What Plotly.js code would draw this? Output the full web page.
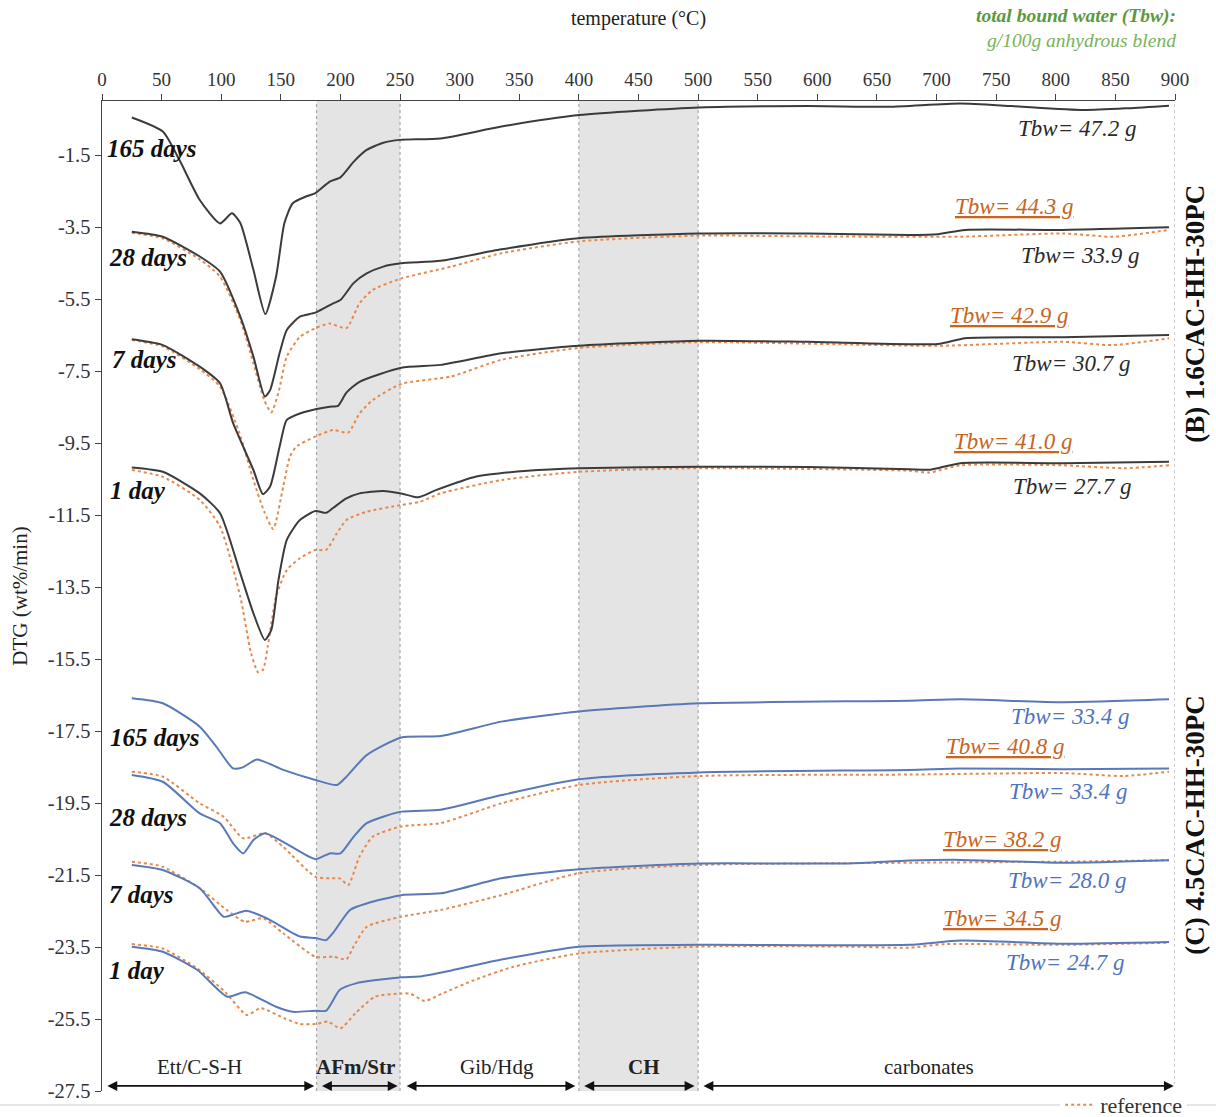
<!DOCTYPE html>
<html>
<head>
<meta charset="utf-8">
<script src="https://cdn.plot.ly/plotly-3.0.1.min.js"></script>
<style>html,body{margin:0;padding:0;background:#fff;}#chart{width:1216px;height:1117px;}</style>
</head>
<body>
<div id="chart"></div>
<script>
// ---------- data (temperature °C, DTG wt%/min) ----------
// (B) 1.6CAC-HH-30PC
const B165_T = [25, 51, 65, 82, 99, 109, 116, 127, 137, 146, 153, 160, 172, 179, 191, 200, 211, 222, 236, 250, 284, 335, 400, 501, 592, 660, 720, 763, 823, 861, 895];
const B165_V = [-0.46, -0.85, -1.64, -2.75, -3.40, -3.12, -3.39, -4.69, -5.92, -4.88, -3.39, -2.84, -2.64, -2.56, -2.24, -2.12, -1.69, -1.36, -1.16, -1.08, -1.04, -0.71, -0.39, -0.18, -0.14, -0.16, -0.07, -0.14, -0.25, -0.20, -0.13];

const B28_T = [25, 51, 82, 99, 116, 127, 136.6, 141, 149, 155, 166, 179, 194, 200, 211, 222, 236, 251, 284, 335, 400, 501, 592, 677, 701, 724, 806, 895];
const B28_V = [-3.63, -3.77, -4.32, -4.74, -5.99, -7.10, -8.21, -8.03, -7.00, -6.36, -5.99, -5.88, -5.62, -5.53, -5.06, -4.79, -4.60, -4.51, -4.44, -4.12, -3.81, -3.68, -3.68, -3.72, -3.70, -3.58, -3.58, -3.51];
const B28R_T = [25, 51, 82, 99, 116, 127, 136, 142, 148, 155, 166, 179, 191, 205, 216, 227, 251, 293, 335, 400, 501, 592, 720, 806, 848, 895];
const B28R_V = [-3.66, -3.82, -4.40, -4.88, -6.08, -7.29, -8.30, -8.65, -8.10, -7.10, -6.55, -6.31, -6.18, -6.31, -5.62, -5.25, -4.93, -4.60, -4.23, -3.90, -3.74, -3.76, -3.77, -3.68, -3.77, -3.58];

const B7_T = [25, 51, 82, 99, 110, 127, 135, 141, 149, 155, 166, 179, 191, 198, 205, 216, 251, 284, 335, 400, 501, 592, 701, 724, 806, 895];
const B7_V = [-6.62, -6.78, -7.38, -7.84, -8.95, -10.25, -10.92, -10.71, -9.60, -8.86, -8.68, -8.56, -8.49, -8.47, -8.10, -7.80, -7.41, -7.33, -7.01, -6.80, -6.66, -6.69, -6.75, -6.59, -6.56, -6.50];
const B7R_T = [25, 51, 82, 99, 115, 127, 136, 143.6, 152, 157.6, 163, 179, 194, 206.5, 216, 227, 251, 293, 335, 400, 501, 701, 806, 848, 895];
const B7R_V = [-6.64, -6.82, -7.45, -7.93, -9.20, -10.53, -11.40, -11.89, -10.71, -9.88, -9.60, -9.32, -9.14, -9.21, -8.68, -8.31, -7.86, -7.65, -7.19, -6.86, -6.70, -6.80, -6.69, -6.78, -6.59];

const B1_T = [25, 51, 82, 99, 116, 127, 136.6, 142, 148, 155, 166, 179, 188, 194, 205, 216, 236, 251, 265, 280, 314, 357, 400, 501, 592, 677, 695, 720, 806, 895];
const B1_V = [-10.18, -10.30, -10.90, -11.45, -13.12, -14.23, -14.97, -14.69, -13.31, -12.19, -11.64, -11.39, -11.44, -11.30, -11.04, -10.90, -10.83, -10.90, -11.01, -10.81, -10.43, -10.27, -10.20, -10.16, -10.17, -10.23, -10.24, -10.06, -10.06, -10.02];
const B1R_T = [25, 51, 82, 99, 116, 125, 131, 135, 139, 146, 155, 166, 179, 188, 197, 205, 222, 251, 267, 284, 335, 400, 501, 677, 694, 720, 806, 857, 895];
const B1R_V = [-10.25, -10.44, -11.08, -11.82, -13.77, -15.34, -15.87, -15.80, -15.16, -13.77, -13.03, -12.70, -12.47, -12.47, -12.01, -11.64, -11.41, -11.22, -11.13, -10.90, -10.53, -10.30, -10.20, -10.27, -10.32, -10.12, -10.12, -10.20, -10.12];

// (C) 4.5CAC-HH-30PC
const C165_T = [25, 51, 82, 96, 110, 118, 130, 152, 179, 197, 205, 222, 251, 284, 335, 400, 501, 677, 720, 806, 895];
const C165_V = [-16.59, -16.73, -17.38, -17.94, -18.54, -18.51, -18.29, -18.58, -18.86, -19.00, -18.77, -18.17, -17.68, -17.64, -17.24, -16.96, -16.73, -16.66, -16.62, -16.70, -16.62];

const C28_T = [25, 51, 82, 99, 110, 118.5, 127, 136.6, 152, 179, 191, 200, 211, 222, 251, 284, 335, 400, 501, 677, 720, 806, 895];
const C28_V = [-18.72, -18.91, -19.79, -20.06, -20.62, -20.90, -20.53, -20.34, -20.58, -21.06, -20.90, -20.90, -20.44, -20.06, -19.74, -19.69, -19.28, -18.84, -18.65, -18.58, -18.54, -18.56, -18.54];
const C28R_T = [25, 51, 82, 102, 118.5, 137, 152, 179, 191, 200, 206.5, 216, 227, 251, 284, 335, 400, 501, 677, 806, 857, 895];
const C28R_V = [-18.63, -18.77, -19.51, -19.88, -20.48, -20.34, -20.72, -21.55, -21.59, -21.60, -21.78, -20.99, -20.44, -20.15, -20.06, -19.51, -19.00, -18.75, -18.71, -18.67, -18.75, -18.63];

const C7_T = [25, 51, 82, 102, 110, 121, 138, 166, 179, 188, 194, 208, 222, 251, 284, 335, 400, 501, 626, 677, 720, 806, 895];
const C7_V = [-21.22, -21.36, -21.87, -22.66, -22.60, -22.49, -22.70, -23.21, -23.25, -23.31, -23.10, -22.47, -22.29, -22.06, -22.01, -21.59, -21.34, -21.18, -21.18, -21.10, -21.08, -21.16, -21.09];
const C7R_T = [25, 51, 82, 104.5, 120, 135, 152, 179, 194, 205, 211, 222, 251, 284, 335, 400, 501, 677, 806, 895];
const C7R_V = [-21.13, -21.27, -21.87, -22.47, -22.80, -22.70, -23.12, -23.77, -23.77, -23.84, -23.49, -22.94, -22.66, -22.47, -22.06, -21.45, -21.22, -21.16, -21.13, -21.09];

const C1_T = [25, 51, 80, 105, 120, 146, 160, 179.5, 188, 199.5, 213, 251, 266, 293, 335, 400, 501, 677, 720, 806, 895];
const C1_V = [-23.49, -23.63, -24.14, -24.88, -24.76, -25.16, -25.30, -25.27, -25.27, -24.69, -24.51, -24.34, -24.32, -24.15, -23.85, -23.49, -23.44, -23.44, -23.32, -23.41, -23.36];
const C1R_T = [25, 51, 80, 103, 121.5, 133, 153, 166, 179.5, 189.5, 200, 212.6, 229, 251, 259, 270.6, 285.5, 312, 345, 400, 501, 626, 677, 707, 806, 895];
const C1R_V = [-23.42, -23.54, -24.10, -24.74, -25.39, -25.20, -25.48, -25.64, -25.64, -25.57, -25.76, -25.34, -24.88, -24.79, -24.80, -25.00, -24.79, -24.42, -24.05, -23.68, -23.49, -23.49, -23.52, -23.42, -23.44, -23.38];

// labels
const AGE_LABELS = ["165 days", "28 days", "7 days", "1 day"];
const AGE_B_POS = [[2.5, -1.31], [4.2, -4.36], [6.7, -7.19], [5, -10.81]];
const AGE_C_POS = [[5, -17.69], [4.5, -19.89], [4.5, -22.05], [4.5, -24.14]];

const TBW_B_TEXT = ["Tbw= 47.2 g", "Tbw= 44.3 g", "Tbw= 33.9 g", "Tbw= 42.9 g", "Tbw= 30.7 g", "Tbw= 41.0 g", "Tbw= 27.7 g"];
const TBW_B_KIND = ["s", "r", "s", "r", "s", "r", "s"];
const TBW_B_POS = [[818, -0.75], [765, -2.92], [820, -4.28], [761, -5.97], [813, -7.28], [764, -9.47], [814, -10.72]];
const TBW_C_TEXT = ["Tbw= 33.4 g", "Tbw= 40.8 g", "Tbw= 33.4 g", "Tbw= 38.2 g", "Tbw= 28.0 g", "Tbw= 34.5 g", "Tbw= 24.7 g"];
const TBW_C_KIND = ["s", "r", "s", "r", "s", "r", "s"];
const TBW_C_POS = [[812, -17.11], [757, -17.94], [810, -19.17], [755, -20.5], [809, -21.64], [755, -22.72], [808, -23.94]];

const REGION_NAMES = ["Ett/C-S-H", "<b>AFm/Str</b>", "Gib/Hdg", "<b>CH</b>", "carbonates"];
const REGION_SPANS = [[2, 178], [182, 248], [253, 397], [402, 497], [502, 899]];
const REGION_LABEL_X = [82, 213, 331, 455, 694];
const BANDS = [[180, 250], [400, 500]];
const DOTTED_X = [180, 250, 400, 500, 900];

const X_TICKS = [0, 50, 100, 150, 200, 250, 300, 350, 400, 450, 500, 550, 600, 650, 700, 750, 800, 850, 900];
const Y_TICKS = [-1.5, -3.5, -5.5, -7.5, -9.5, -11.5, -13.5, -15.5, -17.5, -19.5, -21.5, -23.5, -25.5, -27.5];

// ---------- styles ----------
const FONT = '"Liberation Serif", "Times New Roman", serif';
const COL_B = '#3b3b3b';
const COL_C = '#5878b8';
const COL_R = '#e8894c';
const COL_RT = '#c8641e';
const COL_CT = '#4f74bf';

function solid(x, y, c) {
  return {x: x, y: y, type: 'scatter', mode: 'lines', showlegend: false, hoverinfo: 'skip',
          line: {color: c, width: 2, shape: 'spline', smoothing: 0.6}};
}
function ref(x, y, show) {
  return {x: x, y: y, type: 'scatter', mode: 'lines', name: 'reference', showlegend: !!show, hoverinfo: 'skip',
          line: {color: COL_R, width: 2, dash: 'dot', shape: 'spline', smoothing: 0.6}};
}

const data = [
  ref(B28R_T, B28R_V, true), ref(B7R_T, B7R_V), ref(B1R_T, B1R_V),
  ref(C28R_T, C28R_V), ref(C7R_T, C7R_V), ref(C1R_T, C1R_V),
  solid(B165_T, B165_V, COL_B), solid(B28_T, B28_V, COL_B), solid(B7_T, B7_V, COL_B), solid(B1_T, B1_V, COL_B),
  solid(C165_T, C165_V, COL_C), solid(C28_T, C28_V, COL_C), solid(C7_T, C7_V, COL_C), solid(C1_T, C1_V, COL_C)
];

const shapes = [];
BANDS.forEach(b => shapes.push({type: 'rect', xref: 'x', yref: 'paper', x0: b[0], x1: b[1], y0: 0, y1: 1,
  fillcolor: '#e4e4e4', line: {width: 0}, layer: 'below'}));
DOTTED_X.forEach(x => shapes.push({type: 'line', xref: 'x', yref: 'paper', x0: x, x1: x, y0: 0, y1: 1,
  line: {color: '#9a9a9a', width: 1, dash: 'dot'}, layer: 'below'}));
shapes.push({type: 'line', xref: 'paper', yref: 'paper', x0: -0.095, x1: 1.038, y0: -0.0141, y1: -0.0141,
  line: {color: '#dcdcdc', width: 1.5}, layer: 'below'});

const ann = [];
AGE_LABELS.forEach((t, i) => {
  ann.push({x: AGE_B_POS[i][0], y: AGE_B_POS[i][1], xref: 'x', yref: 'y', xanchor: 'left', yanchor: 'middle',
    text: '<b><i>' + t + '</i></b>', showarrow: false, font: {family: FONT, size: 25, color: '#111'}});
  ann.push({x: AGE_C_POS[i][0], y: AGE_C_POS[i][1], xref: 'x', yref: 'y', xanchor: 'left', yanchor: 'middle',
    text: '<b><i>' + t + '</i></b>', showarrow: false, font: {family: FONT, size: 25, color: '#111'}});
});
function tbw(texts, kinds, pos, solidColor) {
  texts.forEach((t, i) => {
    const isRef = kinds[i] === 'r';
    ann.push({x: pos[i][0], y: pos[i][1], xref: 'x', yref: 'y', xanchor: 'center', yanchor: 'middle',
      text: isRef ? '<u><i>' + t + '</i></u>' : '<i>' + t + '</i>', showarrow: false,
      font: {family: FONT, size: 23, color: isRef ? COL_RT : solidColor}});
  });
}
tbw(TBW_B_TEXT, TBW_B_KIND, TBW_B_POS, '#2a2a2a');
tbw(TBW_C_TEXT, TBW_C_KIND, TBW_C_POS, COL_CT);

REGION_SPANS.forEach((s, i) => {
  ann.push({x: s[1], y: -27.36, ax: s[0], ay: -27.36, xref: 'x', yref: 'y', axref: 'x', ayref: 'y',
    text: ' ', showarrow: true, arrowhead: 2, startarrowhead: 2, arrowside: 'end+start',
    arrowsize: 1.1, startarrowsize: 1.1, arrowwidth: 1.8, arrowcolor: '#111', standoff: 0, startstandoff: 0});
  ann.push({x: REGION_LABEL_X[i], y: -26.82, xref: 'x', yref: 'y', xanchor: 'center', yanchor: 'middle',
    text: REGION_NAMES[i], showarrow: false, font: {family: FONT, size: 21, color: '#222'}});
});

ann.push({x: 1.0186, y: 0.785, xref: 'paper', yref: 'paper', xanchor: 'center', yanchor: 'middle', textangle: -90, showarrow: false,
  text: '<b>(B) 1.6CAC-HH-30PC</b>', font: {family: FONT, size: 27, color: '#111'}});
ann.push({x: 1.0186, y: 0.269, xref: 'paper', yref: 'paper', xanchor: 'center', yanchor: 'middle', textangle: -90, showarrow: false,
  text: '<b>(C) 4.5CAC-HH-30PC</b>', font: {family: FONT, size: 27, color: '#111'}});
ann.push({x: 1.003, y: 1.099, xref: 'paper', yref: 'paper', xanchor: 'right', yanchor: 'top', align: 'right',
  showarrow: false, font: {family: FONT, size: 19.5, color: '#5b9a3c'},
  text: '<b><i>total bound water (Tbw):</i></b><br><span style="color:#79b25a"><i>g/100g anhydrous blend</i></span>'});

const layout = {
  width: 1216, height: 1117,
  margin: {l: 102, r: 41, t: 101, b: 26, autoexpand: false},
  paper_bgcolor: '#fff', plot_bgcolor: 'rgba(0,0,0,0)',
  font: {family: FONT, color: '#333'},
  showlegend: true,
  legend: {x: 0.893, y: -0.0141, xanchor: 'left', yanchor: 'middle', bgcolor: '#fff', borderwidth: 0,
           font: {family: FONT, size: 22, color: '#333'}, tracegroupgap: 0},
  xaxis: {
    side: 'top', range: [0, 900], tickvals: X_TICKS, ticktext: X_TICKS.map(String),
    ticks: 'outside', ticklen: 6, tickcolor: '#444', showline: true, linecolor: '#444', linewidth: 1.5,
    showgrid: false, zeroline: false, tickfont: {family: FONT, size: 19, color: '#333'},
    title: {text: 'temperature (°C)', font: {family: FONT, size: 20, color: '#222'}, standoff: 38}
  },
  yaxis: {
    range: [-27.5, 0], tickvals: Y_TICKS, ticktext: Y_TICKS.map(v => String(v)),
    ticks: 'outside', ticklen: 6, tickcolor: '#444', showline: true, linecolor: '#444', linewidth: 1.5,
    showgrid: false, zeroline: false, tickfont: {family: FONT, size: 20.5, color: '#333'},
    title: {text: 'DTG (wt%/min)', font: {family: FONT, size: 21, color: '#222'}, standoff: 14}
  },
  shapes: shapes,
  annotations: ann
};

Plotly.newPlot('chart', data, layout, {displayModeBar: false, staticPlot: true});
</script>
</body>
</html>
